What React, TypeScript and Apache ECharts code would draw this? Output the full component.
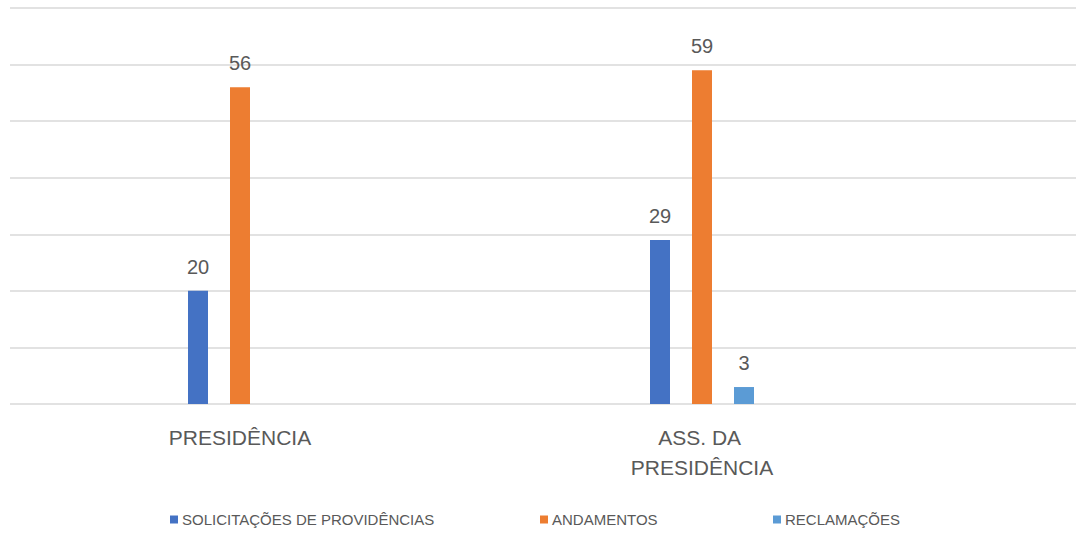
import React, { useEffect, useRef } from "react";
import * as echarts from "echarts";

const categories = ["PRESIDÊNCIA", "ASS. DA PRESIDÊNCIA"];
const seriesNames = ["SOLICITAÇÕES DE PROVIDÊNCIAS", "ANDAMENTOS", "RECLAMAÇÕES"];
const solicitacoes = [20, 29];
const andamentos = [56, 59];
const reclamacoes = [null, 3];
const colors = ["#4472C4", "#ED7D31", "#5B9BD5"];
const yMin = 0;
const yMax = 70;
const yInterval = 10;

const FONT = "'Liberation Sans', Arial, sans-serif";
const TEXT = "#595959";

export default function App() {
  const ref = useRef<HTMLDivElement>(null);
  useEffect(() => {
    if (!ref.current) return;
    const chart = echarts.init(ref.current, undefined, { renderer: "svg" });
    const values = [solicitacoes, andamentos, reclamacoes];
    const legendLefts = [170, 540, 773];
    chart.setOption({
      animation: false,
      backgroundColor: "#ffffff",
      textStyle: { fontFamily: FONT },
      grid: [
        { left: 9, width: 924, top: 8, bottom: 129, containLabel: false },
        { left: 10, right: 2, top: 8, bottom: 129, containLabel: false },
      ],
      legend: seriesNames.map((n, i) => ({
        data: [n],
        left: legendLefts[i],
        top: 512,
        padding: 0,
        icon: "rect",
        itemWidth: 8,
        itemHeight: 8,
        itemGap: 5,
        textStyle: { color: TEXT, fontSize: 15, fontFamily: FONT, padding: [0, 0, 0, -1] },
      })),
      xAxis: [
        {
          type: "category",
          gridIndex: 0,
          data: categories,
          axisLine: { show: false },
          axisTick: { show: false },
          axisLabel: {
            color: TEXT,
            fontSize: 21,
            fontFamily: FONT,
            lineHeight: 30,
            margin: 18,
            width: 165,
            overflow: "break",
            interval: 0,
          },
        },
        {
          type: "category",
          gridIndex: 1,
          data: categories,
          show: false,
        },
      ],
      yAxis: [
        {
          type: "value",
          gridIndex: 0,
          min: yMin,
          max: yMax,
          interval: yInterval,
          show: false,
          splitLine: { show: false },
        },
        {
          type: "value",
          gridIndex: 1,
          min: yMin,
          max: yMax,
          interval: yInterval,
          axisLine: { show: false },
          axisTick: { show: false },
          axisLabel: { show: false },
          splitLine: { show: true, lineStyle: { color: "#d9d9d9", width: 1.5 } },
        },
      ],
      series: seriesNames.map((n, i) => ({
        name: n,
        type: "bar",
        xAxisIndex: 0,
        yAxisIndex: 0,
        data: values[i],
        barWidth: 20,
        barGap: "110%",
        itemStyle: { color: colors[i] },
        label: {
          show: true,
          position: "top",
          distance: 14,
          color: TEXT,
          fontSize: 20,
          fontFamily: FONT,
        },
      })),
    });
    return () => chart.dispose();
  }, []);
  return (
    <div
      ref={ref}
      style={{ position: "fixed", left: 0, top: 0, width: 1078, height: 533 }}
    />
  );
}
